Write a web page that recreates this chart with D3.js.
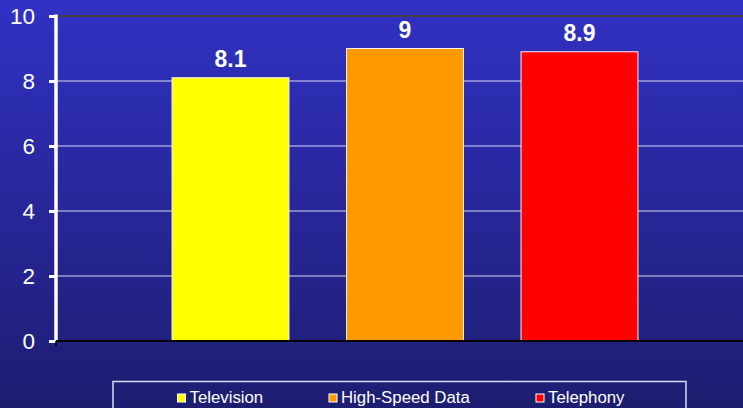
<!DOCTYPE html>
<html>
<head>
<meta charset="utf-8">
<script src="https://cdn.jsdelivr.net/npm/d3@7"></script>
<style>
  html, body { margin: 0; padding: 0; background: #1e1e74; }
  svg { display: block; }
  text { font-family: "Liberation Sans", Arial, sans-serif; }
</style>
</head>
<body>
<script>
// Series shown as a single clustered group
const series = ["Television", "High-Speed Data", "Telephony"];
const values = [8.1, 9, 8.9];
const colors = ["#ffff00", "#ff9900", "#ff0000"];
const yTicks = [0, 2, 4, 6, 8, 10];

const W = 743, H = 408;
const svg = d3.select("body").append("svg").attr("width", W).attr("height", H);

// Background gradient
const defs = svg.append("defs");
const grad = defs.append("linearGradient").attr("id", "bg")
  .attr("x1", 0).attr("y1", 0).attr("x2", 0).attr("y2", 1);
grad.append("stop").attr("offset", "0%").attr("stop-color", "#3131c4");
grad.append("stop").attr("offset", "100%").attr("stop-color", "#1d1d70");
svg.append("rect").attr("width", W).attr("height", H).attr("fill", "url(#bg)");

const plotLeft = 56, plotRight = 754;
const y = d3.scaleLinear().domain([0, 10]).range([341, 16]);
const x = d3.scaleBand().domain(series)
  .range([143.25, 666.75]).paddingInner(0.33).paddingOuter(0.165);

// Gridlines
svg.append("g").selectAll("line").data(yTicks.filter(d => d > 0)).join("line")
  .attr("x1", plotLeft).attr("x2", plotRight)
  .attr("y1", d => y(d)).attr("y2", d => y(d))
  .attr("stroke", d => d === 10 ? "#444444" : "#d8d8f0")
  .attr("stroke-width", d => d === 10 ? 2 : 1);

// Bars
svg.append("g").selectAll("rect").data(series).join("rect")
  .attr("x", d => x(d))
  .attr("y", (d, i) => y(values[i]))
  .attr("width", x.bandwidth())
  .attr("height", (d, i) => y(0) - y(values[i]))
  .attr("fill", (d, i) => colors[i])
  .attr("stroke", "#f4f4f4").attr("stroke-width", 1);

// Value labels
svg.append("g").selectAll("text").data(series).join("text")
  .attr("x", d => x(d) + x.bandwidth() / 2)
  .attr("y", (d, i) => y(values[i]) - 11)
  .attr("text-anchor", "middle")
  .attr("fill", "#ffffff").attr("font-weight", "bold").attr("font-size", 23)
  .text((d, i) => values[i]);

// Y axis
const yAxis = d3.axisLeft(y).tickValues(yTicks).tickSize(7).tickPadding(14);
const ga = svg.append("g").attr("transform", `translate(${plotLeft},0)`).call(yAxis);
ga.select(".domain").attr("stroke", "#ffffff").attr("stroke-width", 3.5)
  .attr("d", `M0,${y(10) - 1.5}V${y(0)}`);
ga.selectAll(".tick line").attr("stroke", "#ffffff").attr("stroke-width", 3);
ga.selectAll(".tick text").attr("fill", "#ffffff").attr("font-size", 22.5)
  .attr("font-family", "'Liberation Sans', Arial, sans-serif");

// Baseline
svg.append("line").attr("x1", plotLeft).attr("x2", plotRight)
  .attr("y1", y(0)).attr("y2", y(0))
  .attr("stroke", "#000000").attr("stroke-width", 2);
svg.append("line").attr("x1", plotLeft).attr("x2", plotLeft)
  .attr("y1", y(0)).attr("y2", y(0) + 5)
  .attr("stroke", "#000000").attr("stroke-width", 1.5);

// Legend
const lg = svg.append("g");
lg.append("rect").attr("x", 113).attr("y", 381.5).attr("width", 573).attr("height", 40)
  .attr("fill", "none").attr("stroke", "#dcdcec").attr("stroke-width", 1.5);
const legendX = [177.5, 329, 536];
const item = lg.selectAll("g").data(series).join("g")
  .attr("transform", (d, i) => `translate(${legendX[i]},394)`);
item.append("rect").attr("width", 8).attr("height", 8)
  .attr("fill", (d, i) => colors[i]).attr("stroke", "#ffffff").attr("stroke-width", 1);
item.append("text").attr("x", 12).attr("y", 8.8)
  .attr("fill", "#ffffff").attr("font-size", 16.8)
  .text(d => d);
</script>
</body>
</html>
